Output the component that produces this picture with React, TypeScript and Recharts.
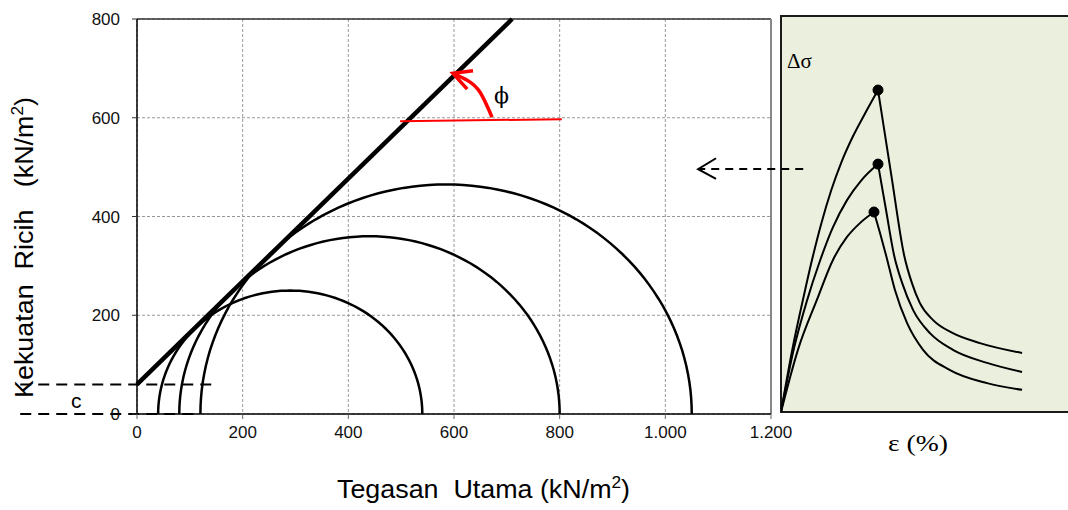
import {
  ComposedChart,
  Line,
  XAxis,
  YAxis,
  CartesianGrid,
  ReferenceLine,
  ReferenceDot,
} from "recharts";

// Mohr circle chart (left)
const xTicks = [0, 200, 400, 600, 800, 1000, 1200];
const yTicks = [0, 200, 400, 600, 800];
const sigma3 = [40, 80, 120];
const sigma1 = [540, 800, 1050];
const cohesion = 60;
const envelope = [
  { x: 0, y: 60 },
  { x: 710, y: 800 },
];
const phiBase = [
  { x: 498, y: 593 },
  { x: 804, y: 597 },
];
const phiArc = [
  { x: 672, y: 601 },
  { x: 649, y: 652 },
  { x: 625, y: 676 },
  { x: 598, y: 690 },
];
const phiHead = [
  { x: 636, y: 695 },
  { x: 598, y: 690 },
  { x: 625, y: 658 },
];
const cLineStart = -221;
const cLineEnd = [144, 118];
const linkArrow = { from: 1261, to: 1062, y: 496 };
const linkHead = [
  { x: 1096, y: 518 },
  { x: 1062, y: 496 },
  { x: 1096, y: 476 },
];

// stress-strain curves (right), eps in %, dsig in arbitrary units
const riseA = [[0, 0], [0.4, 1.6], [0.8, 2.95], [1.1, 3.9], [1.4, 4.75], [1.75, 5.6], [2.1, 6.3], [2.5, 6.95], [2.9, 7.5], [3.38, 8.13]];
const fallA = [[3.38, 8.13], [3.85, 5.95], [4.29, 3.96], [4.56, 3.26], [4.84, 2.75], [5.3, 2.32], [5.99, 1.99], [6.93, 1.74], [8.4, 1.49]];
const riseB = [[0, 0], [0.45, 1.6], [0.9, 2.8], [1.35, 3.8], [1.8, 4.65], [2.3, 5.35], [2.8, 5.85], [3.38, 6.26]];
const fallB = [[3.38, 6.26], [3.66, 5.1], [3.94, 3.96], [4.22, 3.26], [4.6, 2.58], [5.19, 1.99], [5.99, 1.57], [7.18, 1.24], [8.4, 1.01]];
const riseC = [[0, 0], [0.59, 1.57], [1.25, 2.83], [1.81, 3.84], [2.3, 4.42], [2.75, 4.77], [3.24, 5.05]];
const fallC = [[3.24, 5.05], [3.45, 4.52], [3.66, 3.96], [3.97, 3.08], [4.39, 2.25], [4.95, 1.57], [5.89, 1.06], [7.18, 0.73], [8.4, 0.56]];

const toPts = (arr: number[][]) => arr.map(([x, y]) => ({ x, y }));

// upper half of a Mohr circle between sigma3 and sigma1
const mohr = (s3: number, s1: number) => {
  const c = (s1 + s3) / 2;
  const r = (s1 - s3) / 2;
  const pts = [];
  for (let i = 0; i <= 90; i++) {
    const t = Math.PI - (Math.PI * i) / 90;
    pts.push({ x: c + r * Math.cos(t), y: r * Math.sin(t) });
  }
  return pts;
};

const fmt = (v: number) => String(v).replace(/\B(?=(\d{3})+(?!\d))/g, ".");

const tickStyle = { fontFamily: "Liberation Sans, Arial, sans-serif", fontSize: 17, fill: "#111" };
const curves = [riseA, fallA, riseB, fallB, riseC, fallC];
const peaks = [riseA, riseB, riseC].map((r) => r[r.length - 1]);

export default function App() {
  return (
    <div style={{ position: "absolute", left: 0, top: 0, width: 1068, height: 510, background: "#fff" }}>
      {/* right panel */}
      <div
        style={{
          position: "absolute",
          left: 780,
          top: 15,
          width: 290,
          height: 398,
          boxSizing: "border-box",
          border: "2px solid #1a1a1a",
          background: "#EAF0DD",
        }}
      />
      <div style={{ position: "absolute", left: 781, top: 16 }}>
        <ComposedChart width={287} height={396} margin={{ top: 0, right: 0, bottom: 0, left: 0 }}>
          <XAxis type="number" dataKey="x" domain={[0, 10]} hide />
          <YAxis type="number" domain={[0, 10]} hide />
          {curves.map((c, i) => (
            <Line
              key={i}
              data={toPts(c)}
              dataKey="y"
              type="monotone"
              stroke="#000"
              strokeWidth={2}
              dot={false}
              isAnimationActive={false}
            />
          ))}
          {peaks.map(([x, y], i) => (
            <ReferenceDot key={i} x={x} y={y} r={5} fill="#000" stroke="#000" ifOverflow="visible" />
          ))}
        </ComposedChart>
      </div>

      {/* left Mohr chart */}
      <div style={{ position: "absolute", left: 0, top: 0 }}>
        <ComposedChart width={810} height={510} margin={{ top: 19, right: 39, bottom: 66, left: 77 }}>
          <CartesianGrid stroke="#999" strokeDasharray="3 2" />
          <XAxis
            type="number"
            dataKey="x"
            domain={[0, 1200]}
            ticks={xTicks}
            tickFormatter={fmt}
            height={30}
            tickSize={5}
            tickMargin={7}
            stroke="#000"
            axisLine={{ stroke: "#000", strokeWidth: 1.5 }}
            tickLine={{ stroke: "#666" }}
            tick={tickStyle}
          />
          <YAxis
            type="number"
            domain={[0, 800]}
            ticks={yTicks}
            width={60}
            tickSize={5}
            tickMargin={12}
            axisLine={{ stroke: "#000", strokeWidth: 1.5 }}
            tickLine={{ stroke: "#333" }}
            tick={tickStyle}
          />
          <ReferenceLine y={800} stroke="#333" strokeWidth={1.5} />
          <ReferenceLine x={1200} stroke="#888" strokeWidth={2} />
          <ReferenceLine
            segment={[{ x: cLineStart, y: cohesion }, { x: cLineEnd[0], y: cohesion }]}
            stroke="#000"
            strokeWidth={2}
            strokeDasharray="11 7"
            ifOverflow="visible"
          />
          <ReferenceLine
            segment={[{ x: cLineStart, y: 0 }, { x: cLineEnd[1], y: 0 }]}
            stroke="#000"
            strokeWidth={2}
            strokeDasharray="11 7"
            ifOverflow="visible"
          />
          <ReferenceLine
            segment={[{ x: linkArrow.from, y: linkArrow.y }, { x: linkArrow.to, y: linkArrow.y }]}
            stroke="#000"
            strokeWidth={2}
            strokeDasharray="8 6"
            ifOverflow="visible"
          />
          <Line data={linkHead} dataKey="y" type="linear" stroke="#000" strokeWidth={2} dot={false} isAnimationActive={false} />
          {sigma3.map((s3, i) => (
            <Line
              key={i}
              data={mohr(s3, sigma1[i])}
              dataKey="y"
              type="linear"
              stroke="#000"
              strokeWidth={2.5}
              dot={false}
              isAnimationActive={false}
            />
          ))}
          <Line data={envelope} dataKey="y" type="linear" stroke="#000" strokeWidth={4.5} dot={false} isAnimationActive={false} />
          <Line data={phiBase} dataKey="y" type="linear" stroke="#f00" strokeWidth={2} dot={false} isAnimationActive={false} />
          <Line data={phiArc} dataKey="y" type="natural" stroke="#f00" strokeWidth={3.5} dot={false} isAnimationActive={false} />
          <Line data={phiHead} dataKey="y" type="linear" stroke="#f00" strokeWidth={3.5} dot={false} isAnimationActive={false} />
        </ComposedChart>
      </div>

      {/* labels */}
      <svg width={1068} height={510} style={{ position: "absolute", left: 0, top: 0, pointerEvents: "none" }}>
        <text
          transform="translate(33 398) rotate(-90)"
          textLength={301}
          lengthAdjust="spacingAndGlyphs"
          style={{ whiteSpace: "pre" }}
          fontFamily="Liberation Sans, Arial, sans-serif"
          fontSize={25}
          fill="#000"
        >
          {"Kekuatan  Ricih   (kN/m"}
          <tspan fontSize={16} dy={-10}>2</tspan>
          <tspan dy={10}>)</tspan>
        </text>
        <text
          x={337}
          y={498}
          textLength={293}
          lengthAdjust="spacingAndGlyphs"
          style={{ whiteSpace: "pre" }}
          fontFamily="Liberation Sans, Arial, sans-serif"
          fontSize={25}
          fill="#000"
        >
          {"Tegasan  Utama (kN/m"}
          <tspan fontSize={16} dy={-10}>2</tspan>
          <tspan dy={10}>)</tspan>
        </text>
        <text x={71} y={408} fontFamily="Liberation Sans, Arial, sans-serif" fontSize={21} fill="#000">c</text>
        <text x={494} y={103} fontFamily="DejaVu Serif, Liberation Serif, serif" fontSize={22} fill="#000">{"\u03D5"}</text>
        <text x={787} y={68} fontFamily="Liberation Serif, Times New Roman, serif" fontSize={21} fill="#000">Δσ</text>
        <text
          x={888}
          y={451}
          textLength={60}
          lengthAdjust="spacingAndGlyphs"
          style={{ whiteSpace: "pre" }}
          fontFamily="Liberation Serif, Times New Roman, serif"
          fontSize={23}
          fill="#000"
        >
          ε (%)
        </text>
      </svg>
    </div>
  );
}
